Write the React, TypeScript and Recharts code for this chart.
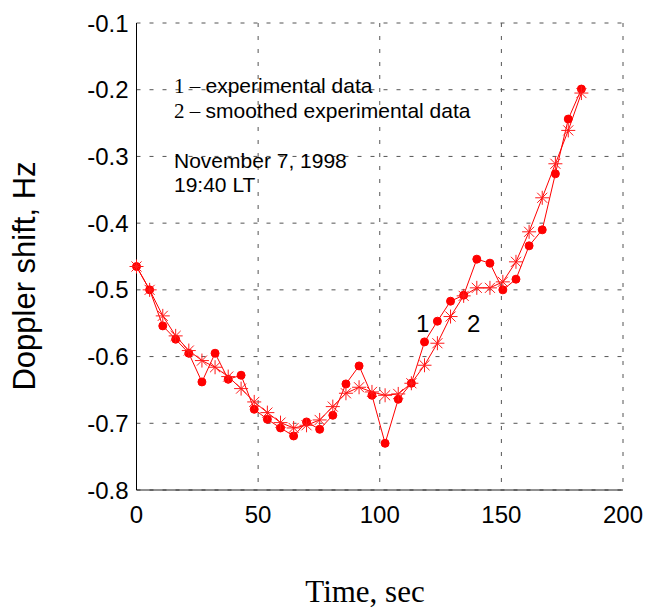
import React from 'react'
import { LineChart, Line, XAxis, YAxis, CartesianGrid } from 'recharts'

const times = [
  0, 5.4, 10.8, 16.1, 21.5, 26.9, 32.3, 37.7, 43.0, 48.4, 53.8, 59.2, 64.6, 69.9, 75.3, 80.7, 86.1, 91.5,
  96.8, 102.2, 107.6, 113.0, 118.4, 123.7, 129.1, 134.5, 139.9, 145.3, 150.6, 156.0, 161.4, 166.8, 172.2,
  177.5, 182.9,
]

const experimental = [
  -0.465, -0.5, -0.554, -0.574, -0.595, -0.638, -0.595, -0.634, -0.628, -0.679, -0.694, -0.707, -0.719,
  -0.698, -0.709, -0.688, -0.641, -0.614, -0.658, -0.73, -0.664, -0.64, -0.578, -0.547, -0.517, -0.508,
  -0.454, -0.46, -0.5, -0.484, -0.434, -0.41, -0.326, -0.244, -0.199,
]

const smoothed = [
  -0.465, -0.5, -0.539, -0.569, -0.591, -0.606, -0.616, -0.63, -0.648, -0.668, -0.684, -0.699, -0.707,
  -0.703, -0.695, -0.675, -0.655, -0.646, -0.653, -0.658, -0.656, -0.64, -0.613, -0.58, -0.54, -0.509,
  -0.497, -0.497, -0.488, -0.458, -0.413, -0.362, -0.311, -0.261, -0.205,
]

const xTicks = [0, 50, 100, 150, 200]
const yTicks = [-0.8, -0.7, -0.6, -0.5, -0.4, -0.3, -0.2, -0.1]

const data = times.map((t, i) => ({ t, exp: experimental[i], smooth: smoothed[i] }))

const sans = '"Liberation Sans", Arial, sans-serif'
const serif = '"Liberation Serif", "Times New Roman", serif'

// matlab-style '*' marker
const Star = (props: any) => {
  const { cx, cy } = props
  if (cx == null || cy == null) return null
  const r = 7
  const d = r * 0.72
  return (
    <g stroke="#ff1a1a" strokeWidth={1}>
      <line x1={cx - r} y1={cy} x2={cx + r} y2={cy} />
      <line x1={cx} y1={cy - r} x2={cx} y2={cy + r} />
      <line x1={cx - d} y1={cy - d} x2={cx + d} y2={cy + d} />
      <line x1={cx - d} y1={cy + d} x2={cx + d} y2={cy - d} />
    </g>
  )
}

export default function App() {
  return (
    <div style={{ position: 'absolute', left: 0, top: 0, width: 645, height: 611, background: '#fff' }}>
      <LineChart
        width={645}
        height={611}
        data={data}
        margin={{ top: 23, right: 22, bottom: 81, left: 80.5 }}
      >
        <CartesianGrid stroke="#555" strokeDasharray="4 9" />
        <XAxis
          dataKey="t"
          type="number"
          domain={[0, 200]}
          ticks={xTicks}
          height={40}
          tickLine={false}
          tickMargin={10}
          axisLine={{ stroke: '#222' }}
          tick={{ fill: '#000', fontSize: 24, fontFamily: sans }}
        />
        <YAxis
          type="number"
          domain={[-0.8, -0.1]}
          ticks={yTicks}
          width={56}
          tickLine={false}
          axisLine={{ stroke: '#000' }}
          tick={{ fill: '#000', fontSize: 24, fontFamily: sans }}
        />
        <Line
          dataKey="exp"
          stroke="#ff0000"
          strokeWidth={1}
          dot={{ r: 4, fill: '#ff0000', stroke: '#ff0000' }}
          isAnimationActive={false}
        />
        <Line
          dataKey="smooth"
          stroke="#ff0000"
          strokeWidth={1}
          dot={<Star />}
          isAnimationActive={false}
        />
      </LineChart>
      <svg
        width={645}
        height={611}
        style={{ position: 'absolute', left: 0, top: 0, pointerEvents: 'none' }}
      >
        <text x={174} y={93} fontSize={21} fontFamily={sans}>
          <tspan fontFamily={serif}>1 – </tspan>experimental data
        </text>
        <text x={174} y={118} fontSize={21} fontFamily={sans}>
          <tspan fontFamily={serif}>2 – </tspan>smoothed experimental data
        </text>
        <text x={174} y={168} fontSize={21} fontFamily={sans}>November 7, 1998</text>
        <text x={174} y={192} fontSize={21} fontFamily={sans}>19:40 LT</text>
        <text x={416} y={332} fontSize={24} fontFamily={sans}>1</text>
        <text x={467} y={332} fontSize={24} fontFamily={sans}>2</text>
        <text
          x={35}
          y={276}
          fontSize={31}
          fontFamily={sans}
          textAnchor="middle"
          transform="rotate(-90 35 276)"
        >
          Doppler shift, Hz
        </text>
        <text x={365} y={602} fontSize={31} fontFamily={serif} textAnchor="middle">
          Time, sec
        </text>
      </svg>
    </div>
  )
}
